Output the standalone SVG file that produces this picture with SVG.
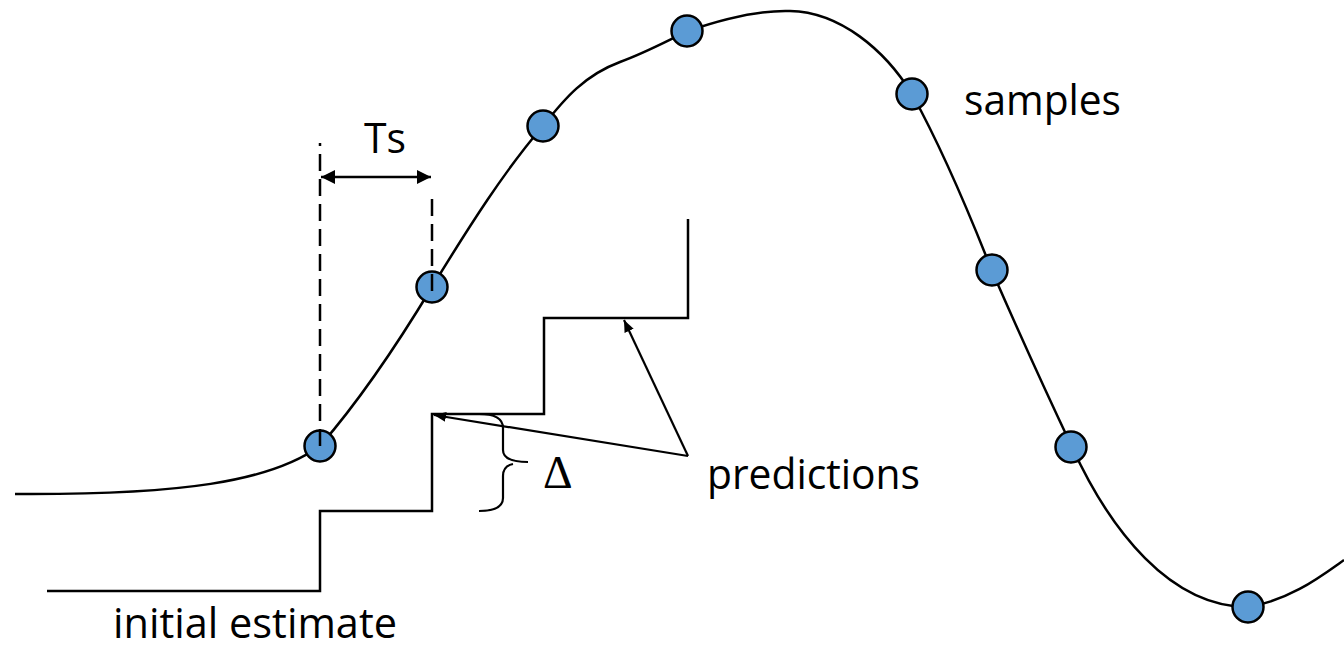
<svg xmlns="http://www.w3.org/2000/svg" width="1344" height="654" viewBox="0 0 1344 654">
  <style>
    .ln { fill: none; stroke: #000; stroke-width: 2.5; stroke-linejoin: miter; }
    .thin { fill: none; stroke: #000; stroke-width: 2.2; }
    .dash { fill: none; stroke: #000; stroke-width: 2.5; stroke-dasharray: 17 8; }
    .smp { fill: #5B9BD5; stroke: #000; stroke-width: 2.5; }
    .lbl { font-family: "Open Sans", "Liberation Sans", sans-serif; font-size: 42px; fill: #000; }
    .greek { font-family: "Liberation Serif", "DejaVu Serif", serif; font-size: 46px; fill: #000; }
  </style>
  <defs>
    <marker id="ah" viewBox="0 0 12 10" refX="12" refY="5" markerWidth="12" markerHeight="10" markerUnits="userSpaceOnUse" orient="auto-start-reverse">
      <path d="M0,0 L12,5 L0,10 Z" fill="#000"/>
    </marker>
    <marker id="ahs" viewBox="0 0 14 14" refX="14" refY="7" markerWidth="14" markerHeight="14" markerUnits="userSpaceOnUse" orient="auto-start-reverse">
      <path d="M0,0 L14,7 L0,14 Z" fill="#000"/>
    </marker>
  </defs>
  <rect width="1344" height="654" fill="#fff"/>

  <g id="connectors">
    <path id="signal" class="ln" d="M15,494 C180,495 270,482 320,446 C360,400 400,340 432,287 C470,225 505,170 543,126 C565,98 585,75 620,62 C645,53 665,42 688,31 C720,20 760,10 790,11 C840,12 885,50 912,94 C940,145 970,215 992,271 C1020,335 1045,390 1072,447 C1110,530 1170,607 1248,607 C1290,600 1320,577 1344,560"/>
    <path id="staircase" class="ln" d="M47,591 L320,591 L320,511 L432,511 L432,414 L544,414 L544,318 L688,318 L688,219"/>
    <path id="pred-arrow-1" class="thin" d="M688,456 L434,415" marker-end="url(#ah)"/>
    <path id="pred-arrow-2" class="thin" d="M688,456 L624,320" marker-end="url(#ah)"/>
    <path id="ts-arrow" class="ln" d="M321,177 L431,177" marker-start="url(#ahs)" marker-end="url(#ahs)"/>
    <path id="brace" class="thin" d="M479,414 Q503,414 503,428 L503,450 Q503,462 528,462 M513,464 Q503,466 503,476 L503,498 Q503,511 479,511"/>
  </g>

  <g id="sample-1"><circle class="smp" cx="320" cy="446" r="15.5"/></g>
  <g id="sample-2"><circle class="smp" cx="432" cy="287" r="15.5"/></g>
  <g id="sample-3"><circle class="smp" cx="543" cy="126" r="15.5"/></g>
  <g id="sample-4"><circle class="smp" cx="687" cy="31" r="15.5"/></g>
  <g id="sample-5"><circle class="smp" cx="912" cy="94" r="15.5"/></g>
  <g id="sample-6"><circle class="smp" cx="992" cy="270" r="15.5"/></g>
  <g id="sample-7"><circle class="smp" cx="1071" cy="447" r="15.5"/></g>
  <g id="sample-8"><circle class="smp" cx="1248" cy="607" r="15.5"/></g>

  <g id="ts-guides">
    <path class="dash" d="M320,446 L320,143"/>
    <path class="dash" d="M432,291 L432,191"/>
  </g>

  <g id="label-ts"><text class="lbl" x="364" y="153" textLength="42" lengthAdjust="spacingAndGlyphs">Ts</text></g>
  <g id="label-samples"><text class="lbl" x="964" y="115" textLength="157" lengthAdjust="spacingAndGlyphs">samples</text></g>
  <g id="label-predictions"><text class="lbl" x="707" y="489" textLength="213" lengthAdjust="spacingAndGlyphs">predictions</text></g>
  <g id="label-initial"><text class="lbl" x="113" y="638" textLength="284" lengthAdjust="spacingAndGlyphs">initial estimate</text></g>
  <g id="label-delta"><text class="greek" x="543" y="488">Δ</text></g>
</svg>
